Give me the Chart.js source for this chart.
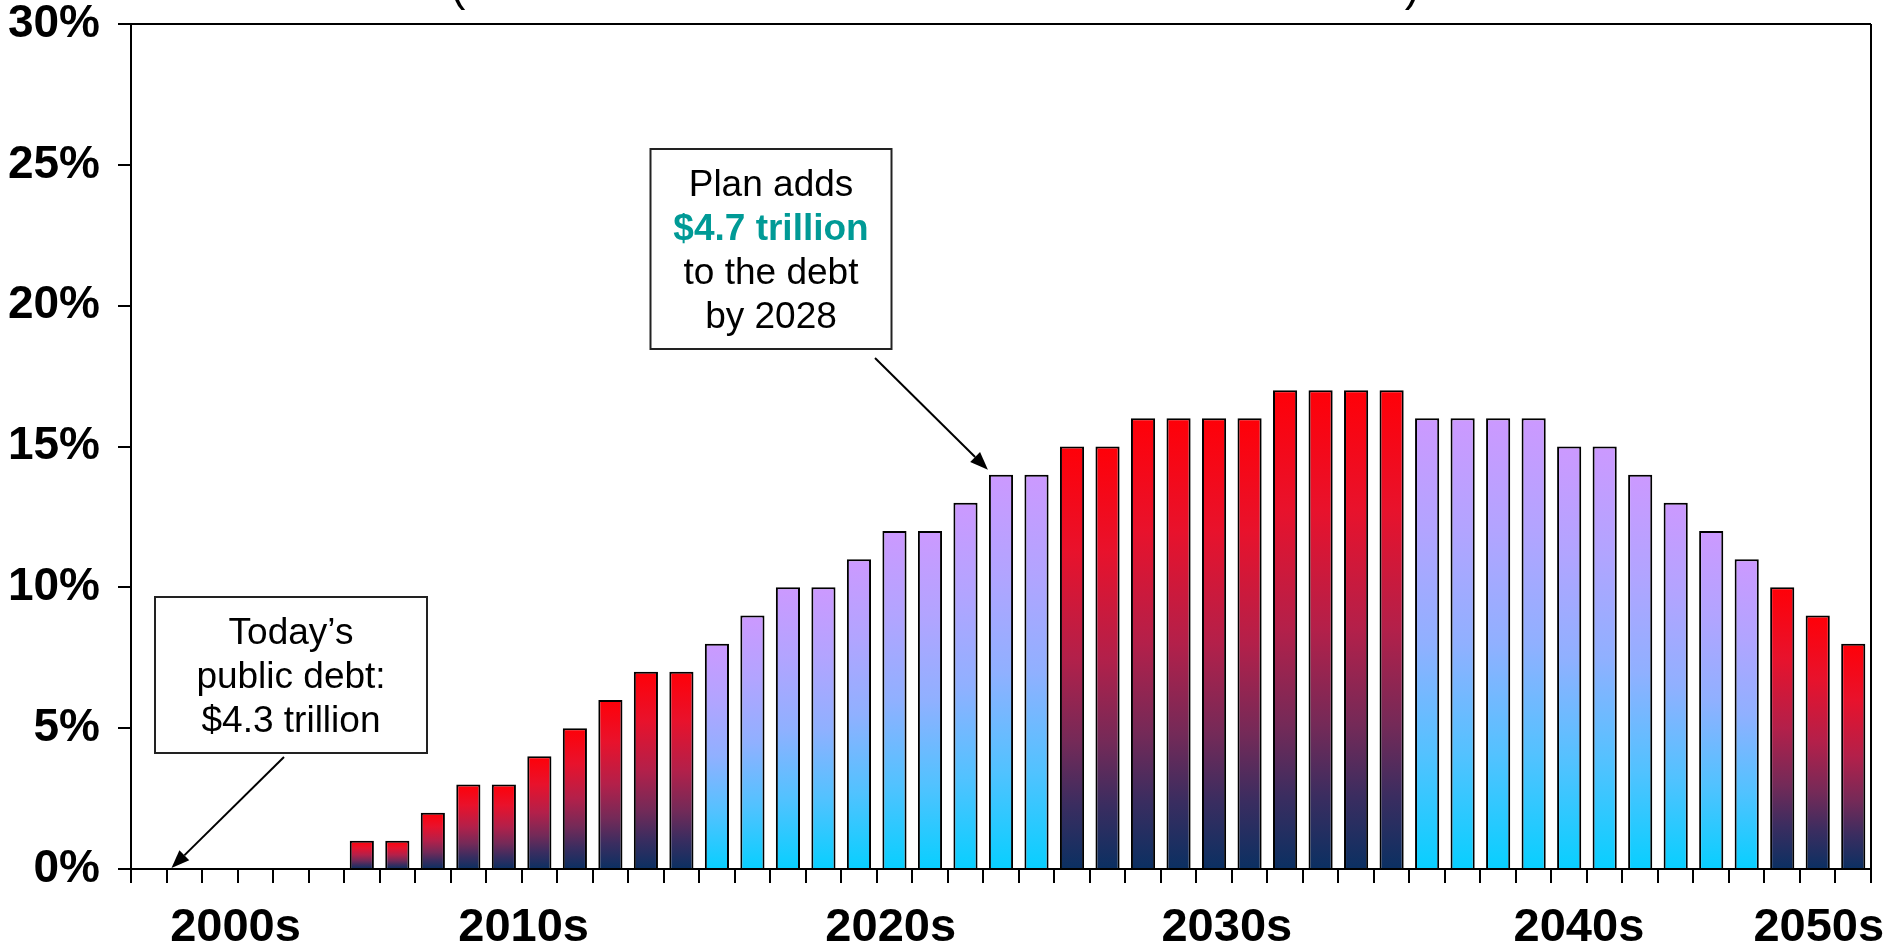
<!DOCTYPE html>
<html>
<head>
<meta charset="utf-8">
<title>Debt as share of GDP</title>
<script src="https://cdn.jsdelivr.net/npm/chart.js@4.4.1/dist/chart.umd.min.js"></script>
<style>
  html, body { margin: 0; padding: 0; background: #fff; }
  #wrap { width: 1888px; height: 947px; position: relative; }
</style>
</head>
<body>
<div id="wrap"><canvas id="debtChart"></canvas></div>
<script>
const FONT = '"Liberation Sans", Arial, Helvetica, sans-serif';

// one bar per year
const years = [
  '2004', '2005', '2006', '2007', '2008', '2009',
  '2010', '2011', '2012', '2013', '2014', '2015', '2016', '2017', '2018', '2019',
  '2020', '2021', '2022', '2023', '2024', '2025', '2026', '2027', '2028', '2029',
  '2030', '2031', '2032', '2033', '2034', '2035', '2036', '2037', '2038', '2039',
  '2040', '2041', '2042', '2043', '2044', '2045', '2046', '2047', '2048', '2049',
  '2050', '2051', '2052'
];

// added debt, percent
const addedDebt = [
  null, null, null, null, null, null,
  1, 1, 2, 3, 3, 4, 5, 6, 7, 7,
  8, 9, 10, 10, 11, 12, 12, 13, 14, 14,
  15, 15, 16, 16, 16, 16, 17, 17, 17, 17,
  16, 16, 16, 16, 15, 15, 14, 13, 12, 11,
  10, 9, 8
];

const decadeLabels = ['2000s', '2010s', '2020s', '2030s', '2040s', '2050s'];
const decadeNudge = [-2, 2, 14, -5, -8, 1];   // small hand offsets for the decade labels

const yMax = 30;
const yStep = 5;

// gradient stops for the two alternating decade tones
const redStops = [[0, '#ff0008'], [0.25, '#e8122c'], [0.5, '#b3204a'], [0.7, '#742a58'], [0.85, '#3a2d60'], [1, '#0b3062']];
const blueStops = [[0, '#cc99ff'], [0.25, '#b2a4ff'], [0.5, '#90b0ff'], [0.75, '#52c2ff'], [1, '#08cfff']];

function isRedDecade(year) {
  return Math.floor(Number(year) / 10) % 2 === 1;
}

function barFill(ctx) {
  const chart = ctx.chart;
  const v = ctx.raw;
  if (v == null || !chart.chartArea) return 'rgba(0,0,0,0)';
  const y = chart.scales.y;
  const top = y.getPixelForValue(v);
  const base = y.getPixelForValue(0);
  const g = chart.ctx.createLinearGradient(0, top, 0, base);
  const stops = isRedDecade(years[ctx.dataIndex]) ? redStops : blueStops;
  stops.forEach(([o, c]) => g.addColorStop(o, c));
  return g;
}

function drawArrow(c, x1, y1, x2, y2) {
  const ang = Math.atan2(y2 - y1, x2 - x1);
  const len = 18, half = 7;
  const bx = x2 - len * Math.cos(ang), by = y2 - len * Math.sin(ang);
  c.save();
  c.strokeStyle = '#000';
  c.fillStyle = '#000';
  c.lineWidth = 2;
  c.beginPath();
  c.moveTo(x1, y1);
  c.lineTo(bx, by);
  c.stroke();
  c.beginPath();
  c.moveTo(x2, y2);
  c.lineTo(bx + half * Math.sin(ang), by - half * Math.cos(ang));
  c.lineTo(bx - half * Math.sin(ang), by + half * Math.cos(ang));
  c.closePath();
  c.fill();
  c.restore();
}

function drawNoteBox(c, cx, top, width, lines) {
  const lineGap = 44;
  const h = 47 + (lines.length - 1) * lineGap + 21;
  c.save();
  c.fillStyle = '#fff';
  c.fillRect(cx - width / 2, top, width, h);
  c.strokeStyle = '#222';
  c.lineWidth = 2;
  c.strokeRect(cx - width / 2, top, width, h);
  c.textAlign = 'center';
  c.textBaseline = 'alphabetic';
  lines.forEach((ln, i) => {
    c.font = (ln.bold ? 'bold ' : '') + '37px ' + FONT;
    c.fillStyle = ln.color || '#000';
    c.fillText(ln.text, cx, top + 47 + i * lineGap);
  });
  c.restore();
}

const extras = {
  id: 'extras',
  afterDraw(chart) {
    const c = chart.ctx;
    const xs = chart.scales.x, ys = chart.scales.y;
    const area = chart.chartArea;
    const step = xs.getPixelForValue(1) - xs.getPixelForValue(0);

    // right edge of the frame
    c.save();
    c.strokeStyle = '#000';
    c.lineWidth = 2;
    c.beginPath();
    c.moveTo(area.right, area.top);
    c.lineTo(area.right, area.bottom);
    c.stroke();
    c.restore();

    // decade labels under each run of years
    c.save();
    c.font = 'bold 47px ' + FONT;
    c.fillStyle = '#000';
    c.textAlign = 'center';
    c.textBaseline = 'alphabetic';
    decadeLabels.forEach((lab, i) => {
      const prefix = lab.slice(0, 3);
      const idx = years.map((y, k) => y.startsWith(prefix) ? k : -1).filter(k => k >= 0);
      const x = (xs.getPixelForValue(idx[0]) + xs.getPixelForValue(idx[idx.length - 1])) / 2 + decadeNudge[i];
      c.fillText(lab, x, 941);
    });
    c.restore();

    // bottoms of the title brackets above the plot
    c.save();
    c.font = '44px ' + FONT;
    c.fillStyle = '#000';
    c.textAlign = 'center';
    c.textBaseline = 'alphabetic';
    c.fillText('(', 458, 1);
    c.fillText(')', 1412, 1);
    c.restore();

    // callout: today's debt, pointing at the start of 2005
    const i05 = years.indexOf('2005');
    const todayX = xs.getPixelForValue(i05) - step / 2 + 5;
    const zeroY = ys.getPixelForValue(0);
    drawArrow(c, 284, 757, todayX, zeroY - 1);
    drawNoteBox(c, 291, 597, 272, [
      { text: 'Today\u2019s' },
      { text: 'public debt:' },
      { text: '$4.3 trillion' }
    ]);

    // callout: plan total, pointing at the 2028 bar
    const i28 = years.indexOf('2028');
    const meta = chart.getDatasetMeta(0).data[i28];
    const barLeft = meta.x - meta.width / 2;
    const barTop = ys.getPixelForValue(addedDebt[i28]);
    drawArrow(c, 875, 358, barLeft - 1, barTop - 5);
    drawNoteBox(c, 771, 149, 241, [
      { text: 'Plan adds' },
      { text: '$4.7 trillion', bold: true, color: '#009a96' },
      { text: 'to the debt' },
      { text: 'by 2028' }
    ]);
  }
};

new Chart(document.getElementById('debtChart'), {
  type: 'bar',
  data: {
    labels: years,
    datasets: [{
      data: addedDebt,
      backgroundColor: barFill,
      borderColor: '#000',
      borderWidth: 2,
      barPercentage: 0.68,
      categoryPercentage: 1.0
    }]
  },
  options: {
    responsive: true,
    maintainAspectRatio: false,
    animation: false,
    layout: { padding: { top: 24, right: 17, left: 0, bottom: 0 } },
    plugins: {
      legend: { display: false },
      tooltip: { enabled: false },
      title: { display: false }
    },
    scales: {
      x: {
        offset: true,
        grid: {
          offset: true,
          drawOnChartArea: false,
          drawTicks: true,
          tickLength: 14,
          color: '#000',
          lineWidth: 2
        },
        border: { display: true, color: '#000', width: 2 },
        ticks: { display: false, autoSkip: false },
        afterFit(scale) {
          scale.height = 78;
          scale.paddingLeft = 0;
          scale.paddingRight = 0;
        }
      },
      y: {
        min: 0,
        max: yMax,
        grid: {
          drawOnChartArea: true,
          drawTicks: true,
          tickLength: 13,
          lineWidth: 2,
          color: ctx => (ctx.tick && ctx.tick.value === yMax) ? '#000' : 'rgba(0,0,0,0)',
          tickColor: '#000'
        },
        border: { display: true, color: '#000', width: 2 },
        ticks: {
          stepSize: yStep,
          padding: 18,
          color: '#000',
          font: { family: FONT, size: 46, weight: 'bold' },
          callback: v => v + '%'
        },
        afterFit(scale) {
          scale.width = 131;
          scale.paddingTop = 0;
          scale.paddingBottom = 0;
        }
      }
    }
  },
  plugins: [extras]
});
</script>
</body>
</html>
